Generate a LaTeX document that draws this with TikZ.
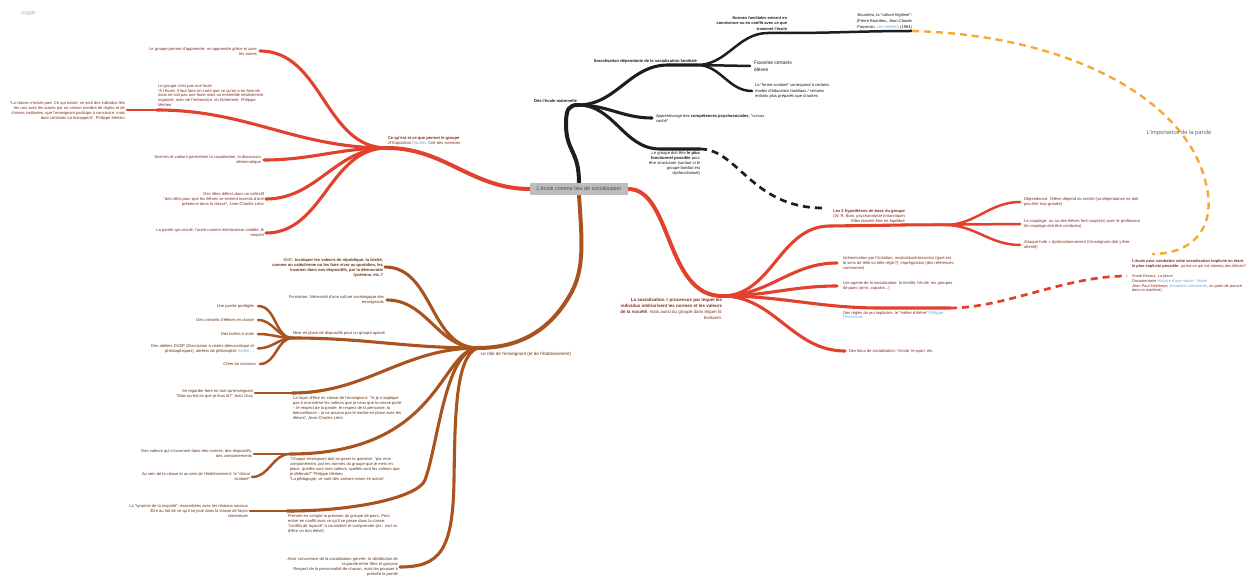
\documentclass[tikz,border=0pt]{standalone}
\usepackage{fontspec}
\setmainfont{Liberation Sans}
\usetikzlibrary{backgrounds}
\definecolor{cred}{HTML}{E2412D}
\definecolor{cbrown}{HTML}{A9541F}
\definecolor{cblack}{HTML}{1E1E1E}
\definecolor{corange}{HTML}{F6A935}
\definecolor{tred}{HTML}{7E2E22}
\definecolor{tbrown}{HTML}{633518}
\definecolor{tblack}{HTML}{1A1A1A}
\definecolor{clink}{HTML}{6FA3DC}
\definecolor{cbox}{HTML}{BDBDBD}
\definecolor{cboxtext}{HTML}{4A4A4A}
\newcommand\fsn{\fontsize{4.1}{5}\selectfont}
\tikzset{
  txt/.style={inner sep=0pt, outer sep=0pt, font=\fsn},
  rtx/.style={txt, align=right},
  ltx/.style={txt, align=left},
  lone/.style={line width=4bp, line cap=round},
  ltwo/.style={line width=3.1bp, line cap=round},
  lthree/.style={line width=2.5bp, line cap=round},
  dsh/.style={line width=2.7bp, dash pattern=on 7bp off 5bp},
}
\begin{document}
\begin{tikzpicture}[x=1bp,y=-1bp]
\useasboundingbox (0,0) rectangle (1252,578);
\begin{scope}[on background layer]
\fill[white] (0,0) rectangle (1252,578);
\end{scope}

\node[txt, anchor=west, text=black!30, font=\fontsize{5}{6}\selectfont] (logo) at (21,13) {coggle};

% centre
\node[fill=cbox, text=cboxtext, font=\fontsize{5.4}{6}\selectfont, minimum width=98bp, minimum height=12bp, inner sep=0pt] (C) at (579,189) {L'école comme lieu de socialisation};

% ---------------- black branch
\coordinate (hB) at (578,105);
\node[rtx, anchor=south east, text=tblack] (nDes) at (577,102.5) {\textbf{Dès l'école maternelle}};
\coordinate (b1) at (697,65);
\node[rtx, anchor=south east, text=tblack] (nSoc) at (697,63) {\textbf{Socialisation dépendante de la socialisation familiale}};
\coordinate (b1a) at (787,33);
\node[rtx, anchor=south east, text=tblack, font=\fontsize{4}{6}\selectfont] (nNorm) at (787,31) {\textbf{Normes familiales entrent en}\\\textbf{connivence ou en conflit avec ce que}\\\textbf{transmet l'école}};
\coordinate (b1a1) at (912,31);
\node[rtx, anchor=south east, text=tblack, font=\fontsize{4.1}{6}\selectfont] (nBourd) at (912,29) {Bourdieu, la "culture légitime":\\(Pierre Bourdieu, Jean-Claude\\Passeron, \textcolor{clink}{Les héritiers} (1964)};
\coordinate (b1b) at (750,66);
\node[ltx, anchor=west, text=tblack, font=\fontsize{5}{6.5}\selectfont] (nFav) at (754,66) {Favorise certains\\élèves};
\coordinate (b1c) at (752,91);
\node[ltx, anchor=west, text=tblack, font=\fontsize{4.1}{5.5}\selectfont] (nForme) at (755,91) {La "forme scolaire" correspond à certains\\modes d'éducation familiaux / certains\\enfants plus préparés que d'autres};
\coordinate (b2) at (652,118);
\node[ltx, anchor=west, text=tblack] (nApp) at (656,118.5) {Apprentissage des \textbf{compétences psychosociales}, "cursus\\caché"};
\coordinate (b3) at (700,149);
\node[rtx, anchor=north east, text=tblack] (nFonc) at (700,151.5) {Le groupe doit être \textbf{le plus}\\\textbf{fonctionnel possible} pour\\être structurant (surtout si le\\groupe familial est\\dysfonctionnel)};
\coordinate (hyp) at (823,208);

% ---------------- red branch (right)
\coordinate (hR) at (722,296);
\node[rtx, anchor=north east, text=tred, font=\fontsize{4.5}{6}\selectfont] (nSocP) at (722,298) {\textbf{La socialisation = processus par lequel les}\\\textbf{individus intériorisent les normes et les valeurs}\\\textbf{de la société}, mais aussi du groupe dans lequel ils\\évoluent.};
\coordinate (r1) at (905,225);
\node[rtx, anchor=south east, text=tred] (nHyp) at (905,223) {\textbf{Les 3 hypothèses de base du groupe}\\(W. R. Bion, psychanalyste britannique)\\Elles doivent être en équilibre};
\coordinate (h1) at (1020,202);
\node[ltx, anchor=west, text=tred] (nH1) at (1024,201.5) {Dépendance: l'élève dépend du maître (sa dépendance ne doit\\pas être trop grande)};
\coordinate (h2) at (1020,224);
\node[ltx, anchor=west, text=tred] (nH2) at (1024,224) {Le couplage: un ou des élèves font couple(s) avec le professeur\\(le couplage doit être combattu)};
\coordinate (h3) at (1020,245);
\node[ltx, anchor=west, text=tred] (nH3) at (1024,244.5) {Attaque-fuite = dysfonctionnement (l'enseignant doit y être\\attentif)};
\coordinate (r2) at (837,263);
\node[ltx, anchor=west, text=tred] (nR2) at (843,263) {Intériorisation par l'imitation, inculcation/interaction (quel est\\le sens de telle ou telle règle?), imprégnation (des références\\communes)};
\coordinate (r3) at (837,286);
\node[ltx, anchor=west, text=tred] (nR3) at (843,285.5) {Les agents de la socialisation: la famille, l'école, les groupes\\de pairs (amis, copains...)};
\coordinate (r4) at (950,308);
\node[ltx, anchor=north west, text=tred] (nR4) at (843,311) {Des règles du jeu implicites, le "métier d'élève" \textcolor{clink}{Philippe}\\\textcolor{clink}{Perrenoud}};
\coordinate (r5) at (845,351);
\node[ltx, anchor=west, text=tred] (nR5) at (849,351) {Des lieux de socialisation: l'école, le sport, etc.};
\node[ltx, anchor=west, text=tred, font=\fontsize{3.95}{5}\selectfont] (nEc) at (1132,276) {\textbf{L'école peut combattre cette socialisation implicite en étant}\\\textbf{le plus explicite possible}: qu'est-ce qui est attendu des élèves?\\[5bp]Annie Ernaux, La place\\Documentaire \textcolor{clink}{Histoire d'une nation: l'école}\\Jean-Paul Delahaye, \textcolor{clink}{Exception consolante}, un grain de pauvre\\dans la machine)};
\coordinate (ecw) at (1127,276);
\coordinate (eco) at (1152,254);
\node[txt, text=black!60, font=\fontsize{5.8}{7}\selectfont] (nImp) at (1179,133) {L'importance de la parole};

% ---------------- red branch (left)
\coordinate (hL) at (387,148);
\node[ltx, anchor=south west, text=tred] (nGrp) at (388,145) {\textbf{Ce qu'est et ce que permet le groupe}\\cf Exposition \textcolor{clink}{Paroles}, Cité des sciences};
\coordinate (l1) at (260,51);
\node[rtx, anchor=east, text=tred] (nL1) at (257,51.5) {Le groupe permet d'apprendre: on apprendre grâce et avec\\les autres};
\coordinate (l2) at (157,110);
\node[ltx, anchor=south west, text=tred] (nL2) at (158,107) {Le groupe n'est pas une foule\\"A l'école, il faut faire en sorte que ce qu'on a en face de\\nous ne soit pas une foule mais un ensemble relativement\\organisé, avec de l'interaction, du frottement. Philippe\\Meirieu};
\coordinate (l2a) at (127,110);
\node[rtx, anchor=east, text=tred] (nL2a) at (125,110.5) {"La classe n'existe pas! Ce qui existe, ce sont des individus liés\\les uns avec les autres par un certain nombre de règles et de\\choses instituées, que l'enseignant participe à construire, mais\\dont certaines lui échappent". Philippe Meirieu};
\coordinate (l3) at (264,160);
\node[rtx, anchor=east, text=tred] (nL3) at (261,159.5) {Normes et valeurs permettent la coopération, la discussion\\démocratique};
\coordinate (l4) at (266,199);
\node[rtx, anchor=east, text=tred] (nL4) at (264,199) {Des rôles définis dans un collectif\\"des rôles pour que les élèves se sentent investis d'une\\présence dans la classe", Jean-Charles Léon};
\coordinate (l5) at (266,233);
\node[rtx, anchor=east, text=tred] (nL5) at (264,233) {La parole qui circule, l'autre comme interlocuteur valable, le\\respect};

% ---------------- brown branch
\coordinate (hE) at (478,348);
\node[ltx, anchor=north west, text=tbrown, font=\fontsize{4.5}{5.5}\selectfont] (nRole) at (481,352.5) {Le rôle de l'enseignant (et de l'établissement)};
\coordinate (e1) at (385,267);
\node[rtx, anchor=east, text=tbrown] (nE1) at (383,267.5) {EMC: \textbf{Inculquer les valeurs de république, la laïcité,}\\\textbf{comme un catéchisme ou les faire vivre au quotidien, les}\\\textbf{incarner dans nos dispositifs, par la démocratie}\\\textbf{lycéenne, etc.?}};
\coordinate (e2) at (387,300);
\node[rtx, anchor=east, text=tbrown] (nE2) at (384,299.5) {Formation: Nécessité d'une culture sociologique des\\enseignants};
\coordinate (e3) at (293,338);
\node[ltx, anchor=south west, text=tbrown] (nE3) at (293,335.5) {Mise en place de dispositifs pour un groupe apaisé};
\coordinate (e3a) at (258,306);
\node[rtx, anchor=east, text=tbrown] (nE3a) at (254,306) {Une parole protégée};
\coordinate (e3b) at (258,320);
\node[rtx, anchor=east, text=tbrown] (nE3b) at (254,320) {Des conseils d'élèves en classe};
\coordinate (e3c) at (258,334);
\node[rtx, anchor=east, text=tbrown] (nE3c) at (254,334) {Des boîtes à mots};
\coordinate (e3d) at (258,348.5);
\node[rtx, anchor=east, text=tbrown] (nE3d) at (254,348.5) {Des ateliers DVDP (Discussion à visées démocratique et\\philosophiques), ateliers de philosophie \textcolor{clink}{Atelier ...}};
\coordinate (e3e) at (260,364);
\node[rtx, anchor=east, text=tbrown] (nE3e) at (256,364) {Créer du commun};
\coordinate (e4) at (292,393);
\node[ltx, anchor=north west, text=tbrown] (nE4) at (293,396.5) {La façon d'être en classe de l'enseignant: "Si je n'applique\\pas à moi-même les valeurs que je veux que la classe porte\\– le respect de la parole, le respect de la personne, la\\bienveillance – je ne pourrai pas le mettre en place avec les\\élèves", Jean-Charles Léon};
\coordinate (e4a) at (255,393);
\node[rtx, anchor=east, text=tbrown] (nE4a) at (253,394) {Se regarder faire en tant qu'enseignant\\"Mais qu'est-ce que je fous là?" Jean Oury};
\coordinate (e5) at (290,454);
\node[ltx, anchor=north west, text=tbrown] (nE5) at (290,457.5) {"Chaque enseignant doit se poser la question: "par mon\\comportement, par les normes du groupe que je mets en\\place, quelles sont mes valeurs, quelles sont les valeurs que\\je défends?" Philippe Meirieu\\"La pédagogie, ce sont des valeurs mises en action"};
\coordinate (e5a) at (254,454);
\node[rtx, anchor=east, text=tbrown] (nE5a) at (252,454) {Des valeurs qui s'incarnent dans des normes, des dispositifs,\\des comportements};
\coordinate (e5b) at (252,477);
\node[rtx, anchor=east, text=tbrown] (nE5b) at (250,476.5) {Au sein de la classe et au sein de l'établissement: le "climat\\scolaire"};
\coordinate (e6) at (287,511);
\node[ltx, anchor=north west, text=tbrown] (nE6) at (288,514.5) {Prendre en compte la pression du groupe de pairs. Peut\\entrer en conflit avec ce qu'il se passe dans la classe:\\"conflits de loyauté" à considérer et comprendre (ex.: mal vu\\d'être un bon élève)};
\coordinate (e6a) at (250,511);
\node[rtx, anchor=east, text=tbrown] (nE6a) at (248,511) {La "tyrannie de la majorité", exacerbées avec les réseaux sociaux\\Être au fait de ce qu'il se joue dans la classe de façon\\silencieuse};
\coordinate (e7) at (400,567);
\node[rtx, anchor=east, text=tbrown] (nE7) at (398,566.5) {Avoir conscience de la socialisation genrée: la distribution de\\la parole entre filles et garçons\\Respect de la personnalité de chacun, mais les pousser à\\prendre la parole};

% ---------------- connectors
\begin{scope}[on background layer]
% black
\draw[lone, cblack] (C.north) .. controls (579,150) and (566,152) .. (566,124) .. controls (566,109) and (569,105) .. (hB);
\draw[ltwo, cblack] (hB) to[out=0,in=180] (668,65) -- (b1);
\draw[lthree, cblack] (b1) to[out=0,in=180] (768,33) -- (b1a);
\draw[lthree, cblack] (b1a) to[out=0,in=180] (b1a1);
\draw[lthree, cblack] (b1) -- (b1b);
\draw[lthree, cblack] (b1) to[out=0,in=180] (b1c);
\draw[ltwo, cblack] (hB) to[out=0,in=180] (b2);
\draw[ltwo, cblack] (hB) to[out=0,in=180] (660,149) -- (b3);
\draw[dsh, cblack] (b3) .. controls (738,149) and (752,208) .. (hyp);
% orange
\draw[dsh, corange, line width=2.4bp] (b1a1) .. controls (1070,35) and (1185,100) .. (1205,180) .. controls (1218,225) and (1195,254) .. (eco);
% red right
\draw[lone, cred] (C.east) .. controls (672,189) and (665,296) .. (hR);
\draw[ltwo, cred] (hR) to[out=0,in=180] (830,226) -- (r1);
\draw[lthree, cred] (r1) -- (945,225) to[out=0,in=180] (h1);
\draw[lthree, cred] (r1) -- (h2);
\draw[lthree, cred] (r1) -- (945,225) to[out=0,in=180] (h3);
\draw[ltwo, cred] (hR) to[out=0,in=180] (r2);
\draw[ltwo, cred] (hR) to[out=0,in=180] (r3);
\draw[ltwo, cred] (hR) to[out=0,in=180] (880,308) -- (r4);
\draw[ltwo, cred] (hR) to[out=0,in=180] (r5);
\draw[dsh, cred] (r4) .. controls (1005,308) and (1065,276) .. (ecw);
% red left
\draw[lone, cred] (C.west) to[out=180,in=0] (hL);
\draw[ltwo, cred] (hL) to[out=180,in=0] (l1);
\draw[ltwo, cred] (hL) to[out=180,in=0] (l2);
\draw[lthree, cred] (l2) -- (l2a);
\draw[ltwo, cred] (hL) to[out=180,in=0] (l3);
\draw[ltwo, cred] (hL) to[out=180,in=0] (l4);
\draw[ltwo, cred] (hL) to[out=180,in=0] (l5);
% brown
\draw[lone, cbrown] (C.south) .. controls (582,240) and (585,270) .. (570,295) .. controls (550,330) and (520,348) .. (hE);
\draw[ltwo, cbrown] (hE) to[out=180,in=0] (e1);
\draw[ltwo, cbrown] (hE) to[out=180,in=0] (e2);
\draw[ltwo, cbrown] (hE) to[out=180,in=0] (e3);
\draw[lthree, cbrown] (e3) to[out=180,in=0] (e3a);
\draw[lthree, cbrown] (e3) to[out=180,in=0] (e3b);
\draw[lthree, cbrown] (e3) to[out=180,in=0] (e3c);
\draw[lthree, cbrown] (e3) to[out=180,in=0] (e3d);
\draw[lthree, cbrown] (e3) to[out=180,in=0] (e3e);
\draw[ltwo, cbrown] (hE) to[out=180,in=0] (e4);
\draw[lthree, cbrown] (e4) -- (e4a);
\draw[ltwo, cbrown] (hE) .. controls (440,350) and (440,454) .. (e5);
\draw[lthree, cbrown] (e5) -- (e5a);
\draw[lthree, cbrown] (e5) to[out=180,in=0] (e5b);
\draw[ltwo, cbrown] (hE) .. controls (445,350) and (438,445) .. (425,480) .. controls (419,496) and (360,511) .. (e6);
\draw[lthree, cbrown] (e6) -- (e6a);
\draw[ltwo, cbrown] (hE) .. controls (455,355) and (455,420) .. (454,480) .. controls (453,550) and (440,567) .. (e7);
\end{scope}
\end{tikzpicture}
\end{document}
